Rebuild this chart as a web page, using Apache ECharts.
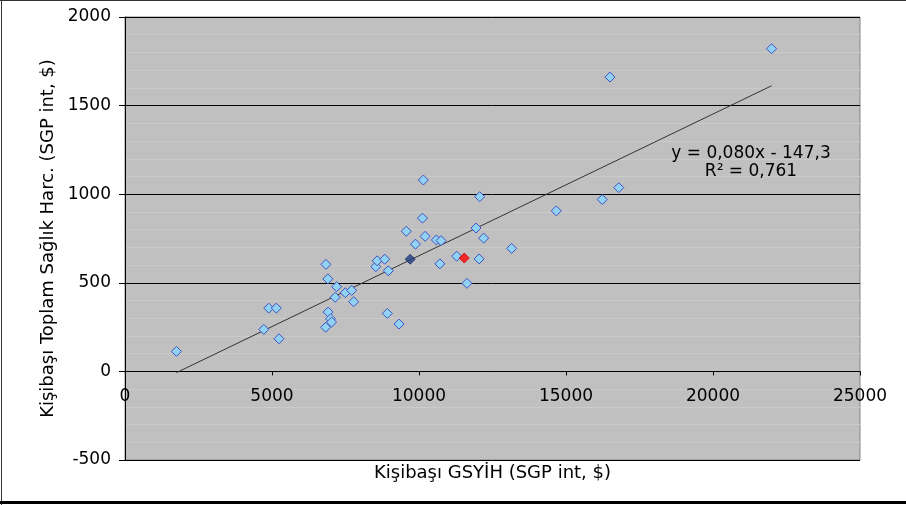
<!DOCTYPE html>
<html>
<head>
<meta charset="utf-8">
<script src="https://cdn.jsdelivr.net/npm/echarts@6/dist/echarts.min.js"></script>
<style>
html,body{margin:0;padding:0;background:#fff;}
#chart{width:906px;height:505px;}
</style>
</head>
<body>
<div id="chart"></div>
<script>
// Kişibaşı GSYİH (x) and Kişibaşı Toplam Sağlık Harcaması (y)
const gdp = [1750, 4720, 4890, 5146, 5237, 6835, 6900, 7199, 7148, 7494, 7709, 7777, 6910, 6990, 7025, 6825,
  8530, 8577, 8832, 8956, 8922, 9320, 9568, 9880, 10118, 10208, 10590, 10750, 10710, 10147,
  12065, 14670, 11940, 12199, 13151, 11281, 12045, 11630, 16234, 16795, 16495, 21993];
const health = [113, 237, 357, 357, 184, 604, 522, 478, 418, 444, 457, 393, 335, 297, 278, 249,
  591, 624, 633, 568, 327, 267, 791, 718, 865, 762, 742, 738, 607, 1080,
  986, 906, 809, 752, 694, 650, 635, 497, 970, 1037, 1661, 1821];
const highlightDark = [[9700, 633]];
const highlightRed = [[11540, 640]];
// trend line end points (y = 0,080x - 147,3)
const trendX = [1750, 21993];
const trendY = [-7, 1612];
const xTicks = [0, 5000, 10000, 15000, 20000, 25000];
const yTicks = [-500, 0, 500, 1000, 1500, 2000];
const eqText = ['y = 0,080x - 147,3', 'R² = 0,761'];

const FONT = 'DejaVu Sans';
const GRID = {left: 125, top: 17, right: 46, bottom: 45};
const plotH = 505 - GRID.top - GRID.bottom;
// shift x axis up to the y = 0 line
const zeroOffset = -plotH * (0 - yTicks[0]) / (yTicks[yTicks.length - 1] - yTicks[0]);

const chart = echarts.init(document.getElementById('chart'), null, {renderer: 'canvas'});
chart.setOption({
  backgroundColor: '#ffffff',
  animation: false,
  grid: Object.assign({show: true, containLabel: false, outerBoundsMode: 'none',
    backgroundColor: '#C0C0C0', borderColor: '#858585', borderWidth: 1}, GRID),
  xAxis: {
    type: 'value', min: xTicks[0], max: xTicks[xTicks.length - 1], interval: 5000,
    position: 'bottom', offset: zeroOffset,
    axisLine: {show: true, onZero: false, lineStyle: {color: '#000', width: 1}},
    axisTick: {show: true, inside: false, length: 4, lineStyle: {color: '#000'}},
    axisLabel: {margin: 17, color: '#000', fontFamily: FONT, fontSize: 17, formatter: v => String(v)},
    splitLine: {show: false},
    name: 'Kişibaşı GSYİH (SGP int, $)', nameLocation: 'middle', nameGap: 93,
    nameTextStyle: {color: '#000', fontFamily: FONT, fontSize: 18}
  },
  yAxis: {
    type: 'value', min: yTicks[0], max: yTicks[yTicks.length - 1], interval: 500,
    axisLine: {show: true, onZero: false, lineStyle: {color: '#000', width: 1}},
    axisTick: {show: true, inside: false, length: 6, lineStyle: {color: '#000'}},
    axisLabel: {margin: 14, color: '#000', fontFamily: FONT, fontSize: 17, formatter: v => String(v)},
    splitLine: {show: true, lineStyle: {color: '#000', width: 1}},
    minorTick: {show: false, splitNumber: 5},
    minorSplitLine: {show: true, lineStyle: {color: '#cacaca', width: 1}},
    name: 'Kişibaşı Toplam Sağlık Harc. (SGP int, $)', nameLocation: 'middle', nameGap: 66,
    nameTextStyle: {color: '#000', fontFamily: FONT, fontSize: 18}
  },
  series: [
    {type: 'line', data: trendX.map((x, i) => [x, trendY[i]]), showSymbol: false, symbol: 'none',
      lineStyle: {color: '#333', width: 1}, z: 2, silent: true},
    {type: 'scatter', data: gdp.map((x, i) => [x, health[i]]), symbol: 'diamond', symbolSize: [10, 10],
      itemStyle: {color: '#92D2F2', borderColor: '#3F52C0', borderWidth: 1, opacity: 1}, z: 3},
    {type: 'scatter', data: highlightDark, symbol: 'diamond', symbolSize: [10, 10],
      itemStyle: {color: '#1F3B80', borderColor: '#1A2E66', borderWidth: 1}, z: 4},
    {type: 'scatter', data: highlightRed, symbol: 'diamond', symbolSize: [10, 10],
      itemStyle: {color: '#FF0000', borderColor: '#D00000', borderWidth: 1}, z: 4}
  ],
  graphic: [
    {type: 'text', x: 751, y: 154, style: {text: eqText[0], fill: '#000', font: '17px "' + FONT + '"', textAlign: 'center', textVerticalAlign: 'middle'}, z: 10},
    {type: 'text', x: 751, y: 172, style: {text: eqText[1], fill: '#000', font: '17px "' + FONT + '"', textAlign: 'center', textVerticalAlign: 'middle'}, z: 10},
    {type: 'line', shape: {x1: 0, y1: 0.5, x2: 906, y2: 0.5}, style: {stroke: '#333', lineWidth: 1}},
    {type: 'line', shape: {x1: 1.5, y1: 0, x2: 1.5, y2: 505}, style: {stroke: '#333', lineWidth: 1}},
    {type: 'line', shape: {x1: 0, y1: 502.5, x2: 906, y2: 502.5}, style: {stroke: '#000', lineWidth: 3}}
  ]
});
</script>
</body>
</html>
